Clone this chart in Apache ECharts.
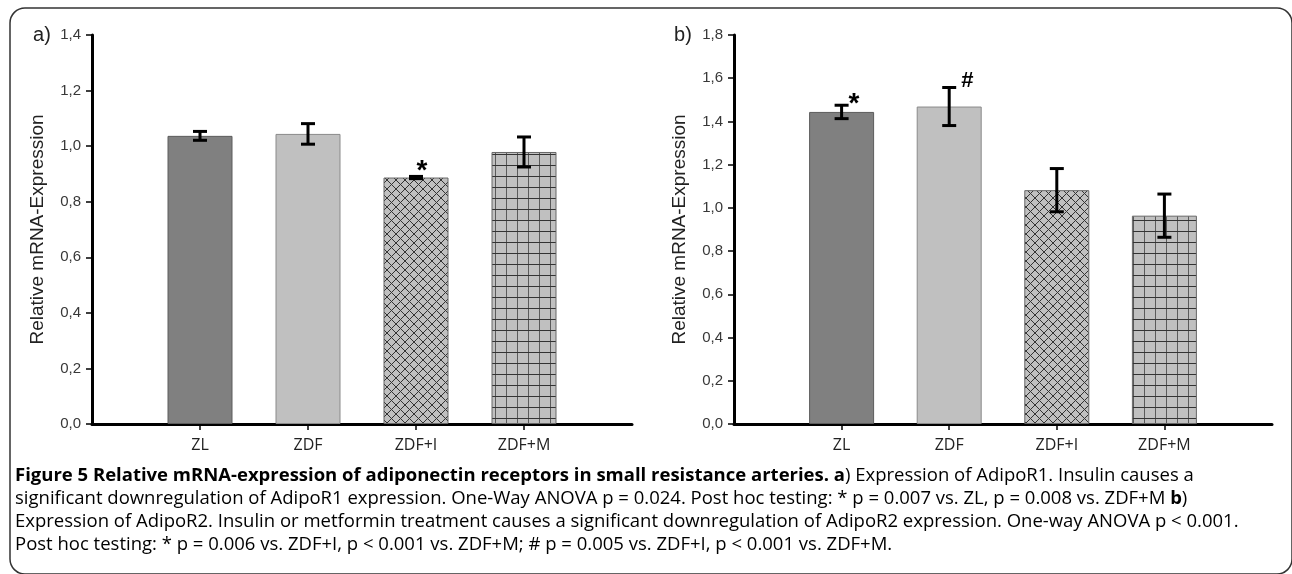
<!DOCTYPE html>
<html>
<head>
<meta charset="utf-8">
<script src="https://cdn.jsdelivr.net/npm/echarts@6/dist/echarts.min.js"></script>
<style>
html, body { margin: 0; padding: 0; background: #fff; }
#chart { width: 1292px; height: 574px; }
</style>
</head>
<body>
<div id="chart"></div>
<script>
// data
var categories = ['ZL', 'ZDF', 'ZDF+I', 'ZDF+M'];
var valuesA = [1.037, 1.044, 0.887, 0.979];
var errorsA = [0.016, 0.037, 0.004, 0.054];
var marksA = ['', '', '*', ''];
var valuesB = [1.444, 1.469, 1.082, 0.964];
var errorsB = [0.031, 0.088, 0.100, 0.100];
var marksB = ['*', '#', '', ''];
var ticksA = ['0,0', '0,2', '0,4', '0,6', '0,8', '1,0', '1,2', '1,4'];
var ticksB = ['0,0', '0,2', '0,4', '0,6', '0,8', '1,0', '1,2', '1,4', '1,6', '1,8'];

var chart = echarts.init(document.getElementById('chart'));

// fill patterns for the two hatched bars
function hatch(kind) {
	var s = kind === 'cross' ? 9 : 11;
	var c = document.createElement('canvas');
	c.width = s;
	c.height = s;
	var g = c.getContext('2d');
	g.fillStyle = '#c0c0c0';
	g.fillRect(0, 0, s, s);
	g.lineWidth = 1;
	if (kind === 'cross') {
		g.strokeStyle = '#333';
		g.beginPath();
		g.moveTo(-1, -1); g.lineTo(s + 1, s + 1);
		g.moveTo(s + 1, -1); g.lineTo(-1, s + 1);
		g.stroke();
	} else {
		g.strokeStyle = '#5a5a5a';
		g.beginPath(); g.moveTo(0.5, 0); g.lineTo(0.5, s); g.stroke();
		g.strokeStyle = '#333';
		g.beginPath(); g.moveTo(0, 0.5); g.lineTo(s, 0.5); g.stroke();
	}
	return c;
}

var fills = ['#808080', '#c0c0c0',
	{ image: hatch('cross'), repeat: 'repeat' },
	{ image: hatch('grid'), repeat: 'repeat' }];
var borders = ['#5c5c5c', '#8a8a8a', '#666', '#666'];

function barData(values) {
	var out = ['-'];
	values.forEach(function (v, i) {
		out.push({ value: v, itemStyle: { color: fills[i], borderColor: borders[i], borderWidth: 1 } });
	});
	out.push('-');
	return out;
}

var glyph = {
	'*': { font: 'bold 28px "Liberation Sans"', lift: 6, dx: 0 },
	'#': { font: 'bold 22px "Liberation Sans"', lift: 0, dx: 5 }
};

function errorBars(errors, marks, place) {
	return function (params, api) {
		var i = params.dataIndex;
		var x = api.value(0), v = api.value(1), e = errors[i];
		var top = api.coord([x, v + e]);
		var bot = api.coord([x, v - e]);
		var cx = top[0];
		var line = { stroke: '#000', lineWidth: 3 };
		var kids = [
			{ type: 'line', shape: { x1: cx, y1: top[1], x2: cx, y2: bot[1] }, style: line },
			{ type: 'line', shape: { x1: cx - 7, y1: top[1], x2: cx + 7, y2: top[1] }, style: line },
			{ type: 'line', shape: { x1: cx - 7, y1: bot[1], x2: cx + 7, y2: bot[1] }, style: line }
		];
		var m = marks[i];
		if (m) {
			var gl = glyph[m];
			kids.push({
				type: 'text',
				style: {
					text: m,
					x: cx + place.dx + gl.dx,
					y: top[1] - place.rise + gl.lift,
					font: gl.font,
					fill: '#000',
					align: place.align,
					verticalAlign: 'middle'
				}
			});
		}
		return { type: 'group', children: kids };
	};
}

function xAxisOf(idx) {
	return {
		gridIndex: idx,
		type: 'category',
		boundaryGap: false,
		data: [''].concat(categories, ['']),
		axisLine: { lineStyle: { color: '#000', width: 3 } },
		axisTick: {
			length: 6,
			interval: function (i) { return i > 0 && i < categories.length + 1; },
			lineStyle: { color: '#000', width: 1.5 }
		},
		axisLabel: { interval: 0, margin: 13, fontSize: 16, fontFamily: 'Open Sans', color: '#222' },
		splitLine: { show: false }
	};
}

function yAxisOf(idx, max, labels) {
	return {
		gridIndex: idx,
		type: 'value',
		min: 0,
		max: max,
		interval: 0.2,
		axisLine: { show: true, lineStyle: { color: '#000', width: 3 } },
		axisTick: { show: true, length: 6, lineStyle: { color: '#000', width: 1.5 } },
		axisLabel: {
			margin: 11, fontSize: 15, fontFamily: 'Liberation Sans', color: '#383838',
			formatter: function (v) { return labels[Math.round(v / 0.2)]; }
		},
		splitLine: { show: false },
		name: 'Relative mRNA-Expression',
		nameLocation: 'middle',
		nameRotate: 90,
		nameGap: 45,
		nameTextStyle: { color: '#222', fontSize: 19, fontFamily: 'Liberation Sans' }
	};
}

var capFont = '"Open Sans"';
var capRich = {
	b: { fontFamily: capFont, fontWeight: 'bold', fontSize: 18.5, color: '#231f20' },
	n: { fontFamily: capFont, fontSize: 18.5, color: '#231f20' }
};
var captionLines = [
	'{b|Figure 5 Relative mRNA-expression of adiponectin receptors in small resistance arteries. a}{n|) Expression of AdipoR1. Insulin causes a}',
	'{n|significant downregulation of AdipoR1 expression. One-Way ANOVA p = 0.024. Post hoc testing: * p = 0.007 vs. ZL, p = 0.008 vs. ZDF+M }{b|b}{n|)}',
	'{n|Expression of AdipoR2. Insulin or metformin treatment causes a significant downregulation of AdipoR2 expression. One-way ANOVA p < 0.001.}',
	'{n|Post hoc testing: * p = 0.006 vs. ZDF+I, p < 0.001 vs. ZDF+M; # p = 0.005 vs. ZDF+I, p < 0.001 vs. ZDF+M.}'
];

var graphics = [
	{
		type: 'rect', z: 100,
		shape: { x: 10, y: 8, width: 1282, height: 566, r: 15 },
		style: { fill: 'none', stroke: '#333', lineWidth: 1.5 }
	},
	{ type: 'text', x: 42, y: 35, style: { text: 'a)', font: '20px "Liberation Sans"', fill: '#222', align: 'center', verticalAlign: 'middle' } },
	{ type: 'text', x: 683, y: 35, style: { text: 'b)', font: '20px "Liberation Sans"', fill: '#222', align: 'center', verticalAlign: 'middle' } }
];
captionLines.forEach(function (t, i) {
	graphics.push({
		type: 'text', x: 15, y: 476 + i * 23,
		style: { text: t, rich: capRich, verticalAlign: 'middle' }
	});
});

chart.setOption({
	animation: false,
	backgroundColor: '#fff',
	grid: [
		{ left: 92, top: 35, width: 540, height: 389 },
		{ left: 734, top: 35, width: 538, height: 389 }
	],
	xAxis: [xAxisOf(0), xAxisOf(1)],
	yAxis: [yAxisOf(0, 1.4, ticksA), yAxisOf(1, 1.8, ticksB)],
	series: [
		{ type: 'bar', xAxisIndex: 0, yAxisIndex: 0, barWidth: 65, data: barData(valuesA) },
		{ type: 'bar', xAxisIndex: 1, yAxisIndex: 1, barWidth: 65, data: barData(valuesB) },
		{
			type: 'custom', xAxisIndex: 0, yAxisIndex: 0, z: 5,
			renderItem: errorBars(errorsA, marksA, { align: 'center', dx: 6, rise: 11 }),
			data: valuesA.map(function (v, i) { return [i + 1, v]; })
		},
		{
			type: 'custom', xAxisIndex: 1, yAxisIndex: 1, z: 5,
			renderItem: errorBars(errorsB, marksB, { align: 'left', dx: 7, rise: 7 }),
			data: valuesB.map(function (v, i) { return [i + 1, v]; })
		}
	],
	graphic: graphics
});
</script>
</body>
</html>
